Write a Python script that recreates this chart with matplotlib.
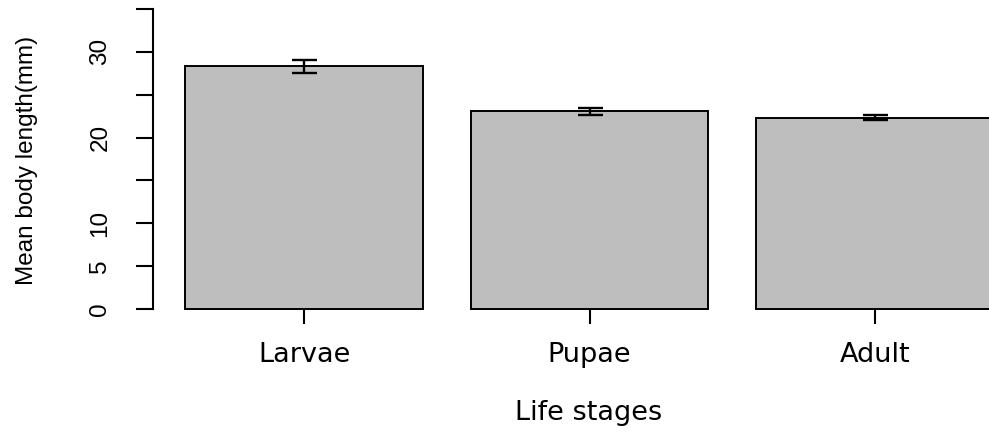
import numpy as np
import matplotlib
matplotlib.use('Agg')
import matplotlib.pyplot as plt

# values
stages = ['Larvae', 'Pupae', 'Adult']
mean_len = [28.3, 23.05, 22.3]
err_len = [0.74, 0.38, 0.3]
yticks = [0, 5, 10, 15, 20, 25, 30, 35]
ytick_labels = ['0', '5', '10', '', '20', '', '30', '']

W, H = 989, 433
fig = plt.figure(figsize=(W / 100, H / 100), dpi=100)
fig.patch.set_facecolor('white')

# R barplot layout: width 1, space 0.2
xpos = 0.2 + np.arange(len(stages)) * 1.2 + 0.5
ax = fig.add_axes([153 / W, (H - 309) / H, (1026 - 153) / W, 300 / H])
ax.set_xlim(0.064, 3.736)
ax.set_ylim(0, 35)

bars = ax.bar(xpos, mean_len, width=1.0, color='#bebebe', edgecolor='black',
              linewidth=1.4, zorder=2)
for b in bars:
    b.set_clip_on(False)
ax.errorbar(xpos, mean_len, yerr=err_len, fmt='none', ecolor='black',
            elinewidth=1.7, capsize=9, capthick=1.7, zorder=3)

for s in ['top', 'right', 'bottom']:
    ax.spines[s].set_visible(False)
ax.spines['left'].set_linewidth(1.5)
ax.spines['left'].set_bounds(0, 35)

ax.set_yticks(yticks)
ax.set_yticklabels(ytick_labels, rotation=90, va='center',
                   family='Liberation Sans', fontsize=17.5)
ax.tick_params(axis='y', length=12, width=1.5, pad=18)

ax.set_xticks(xpos)
ax.set_xticklabels(stages, family='DejaVu Sans', fontsize=19.5)
ax.tick_params(axis='x', length=11, width=1.5, pad=13)

fig.text(589 / W, 1 - 413 / H, 'Life stages', ha='center', va='center',
         family='DejaVu Sans', fontsize=19.5)
fig.text(27 / W, 1 - 160 / H, 'Mean body length(mm)', rotation=90,
         ha='center', va='center', family='Liberation Sans', fontsize=17.5)

fig.savefig('out.png', dpi=100)
